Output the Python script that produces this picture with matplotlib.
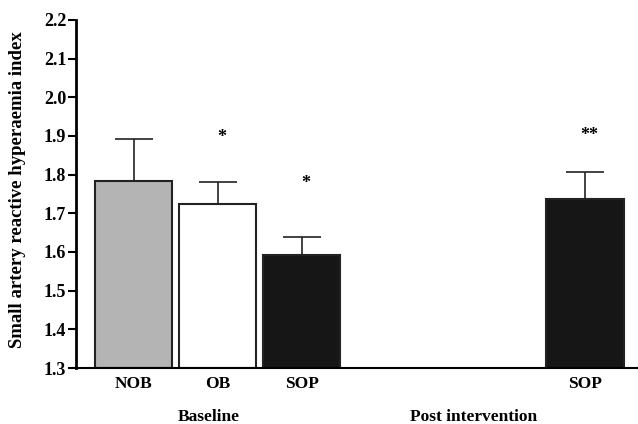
import matplotlib
matplotlib.use("Agg")
import matplotlib.pyplot as plt

# data
groups = ["NOB", "OB", "SOP", "SOP"]
positions = [0, 1, 2, 5.37]
means = [1.784, 1.724, 1.592, 1.737]
errors = [0.107, 0.058, 0.048, 0.071]
colors = ["#b4b4b4", "#ffffff", "#161616", "#161616"]
stars = ["", "*", "*", "**"]
star_y = [None, 1.895, 1.778, 1.9]
sections = ["Baseline", "Post intervention"]
section_x = [0.9, 4.05]

plt.rcParams["font.family"] = ["Liberation Serif", "DejaVu Serif"]
plt.rcParams["font.weight"] = "bold"

fig = plt.figure(figsize=(6.38, 4.24), dpi=100)
ax = fig.add_axes([0.119, 0.132, 0.881, 0.821])

ax.bar(positions, [m - 1.3 for m in means], bottom=1.3, width=0.917,
       color=colors, edgecolor="#222222", linewidth=1.5, zorder=2)
ax.errorbar(positions, means, yerr=[[0] * len(errors), errors], fmt="none",
            ecolor="#222222", elinewidth=1.2, capsize=14, capthick=1.2, zorder=1)

for x, s, y in zip(positions, stars, star_y):
    if s:
        ax.text(x + 0.05, y, s, ha="center", va="center", fontsize=13, fontweight="bold")

ax.set_xlim(-0.685, 6.0)
ax.set_ylim(1.3, 2.2)
ax.set_yticks([1.3 + 0.1 * i for i in range(10)])
ax.set_yticklabels([f"{1.3 + 0.1 * i:.1f}" for i in range(10)], fontsize=13, fontweight="bold")
ax.set_xticks(positions)
ax.set_xticklabels(groups, fontsize=12.5, fontweight="bold")
ax.tick_params(axis="x", length=0, pad=6)
ax.tick_params(axis="y", length=6, width=1.5, pad=1)

for sp in ["top", "right"]:
    ax.spines[sp].set_visible(False)
ax.spines["left"].set_linewidth(2)
ax.spines["bottom"].set_linewidth(1.5)

for x, s in zip(section_x, sections):
    ax.text(x, -0.14, s, transform=ax.get_xaxis_transform(), ha="center", va="center",
            fontsize=12.5, fontweight="bold")

fig.text(0.028, 0.552, "Small artery reactive hyperaemia index", rotation=90,
         ha="center", va="center", fontsize=13.5, fontweight="bold")

fig.savefig("out.png", dpi=100)
